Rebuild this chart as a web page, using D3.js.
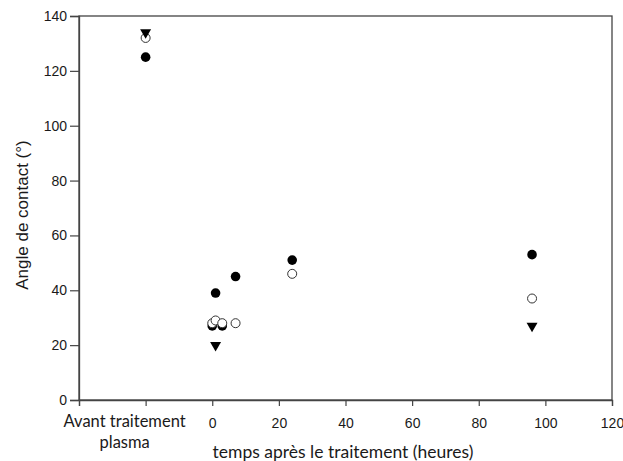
<!DOCTYPE html>
<html><head><meta charset="utf-8">
<script src="https://cdn.jsdelivr.net/npm/d3@7"></script>
<style>body{margin:0;background:#fff}svg{display:block}</style>
</head><body>
<svg id="c" width="623" height="461"></svg>
<script>
const times = ["Avant", 0, 1, 3, 7, 24, 96];
const filledValues = [125, 27, 39, 27, 45, 51, 53];
const openValues = [132, 28, 29, 28, 28, 46, 37];
const triTimes = ["Avant", 1, 96];
const triValues = [134, 20, 27];
const xTicks = [-40, -20, 0, 20, 40, 60, 80, 100, 120];
const yTicks = [0, 20, 40, 60, 80, 100, 120, 140];
const avantLabel = ["Avant traitement", "plasma"];
const xTitle = "temps après le traitement (heures)";
const yTitle = "Angle de contact (°)";

const ARIAL = "'Liberation Sans', Arial, sans-serif";
const CAL = "Lato, 'Open Sans', sans-serif";
const svg = d3.select("#c");
const L = 79, R = 612, T = 16, B = 400;
const x = d3.scaleLinear().domain([-40, 120]).range([L, R]);
const y = d3.scaleLinear().domain([0, 140]).range([B, T]);
const xv = t => t === "Avant" ? -20 : t;
const axisCol = "#444", textCol = "#1a1a1a";

svg.append("rect").attr("x", L).attr("y", T).attr("width", R - L).attr("height", B - T)
  .attr("fill", "none").attr("stroke", axisCol).attr("stroke-width", 1.3);

const ya = svg.append("g").attr("transform", `translate(${L},0)`)
  .call(d3.axisLeft(y).tickValues(yTicks).tickSize(9).tickPadding(3));
ya.select(".domain").attr("stroke", axisCol).attr("stroke-width", 1.3);
ya.selectAll(".tick line").attr("stroke", axisCol).attr("stroke-width", 1.2);
ya.selectAll(".tick text").style("font-family", ARIAL).style("font-size", "14px").attr("fill", textCol);

const xa = svg.append("g").attr("transform", `translate(0,${B})`)
  .call(d3.axisBottom(x).tickValues(xTicks).tickSize(6).tickPadding(12)
    .tickFormat(d => (d < 0 ? "" : d)));
xa.select(".domain").attr("stroke", axisCol).attr("stroke-width", 1.3);
xa.selectAll(".tick line").attr("stroke", axisCol).attr("stroke-width", 1.2);
xa.selectAll(".tick text").style("font-family", ARIAL).style("font-size", "14px").attr("fill", textCol);

const at = svg.append("text").style("font-family", CAL).style("font-size", "16.5px")
  .attr("text-anchor", "middle").attr("fill", textCol);
avantLabel.forEach((s, i) => at.append("tspan").attr("x", x(-20) - 21).attr("y", 427 + i * 21).text(s));

svg.append("text").style("font-family", CAL).style("font-size", "17.5px")
  .attr("x", 343).attr("y", 458).attr("text-anchor", "middle").attr("fill", textCol).text(xTitle);
svg.append("text").style("font-family", ARIAL).style("font-size", "17px")
  .attr("transform", "translate(28,215) rotate(-90)").attr("text-anchor", "middle").attr("fill", textCol).text(yTitle);

svg.append("g").selectAll("circle").data(times.map((t, i) => [t, filledValues[i]])).join("circle")
  .attr("cx", d => x(xv(d[0]))).attr("cy", d => y(d[1])).attr("r", 4.8).attr("fill", "#000");
svg.append("g").selectAll("circle").data(times.map((t, i) => [t, openValues[i]])).join("circle")
  .attr("cx", d => x(xv(d[0]))).attr("cy", d => y(d[1])).attr("r", 4.5)
  .attr("fill", "#fff").attr("stroke", "#333").attr("stroke-width", 1);
svg.append("g").selectAll("path").data(triTimes.map((t, i) => [t, triValues[i]])).join("path")
  .attr("d", d3.symbol().type(d3.symbolTriangle).size(52))
  .attr("transform", d => `translate(${x(xv(d[0]))},${y(d[1])}) rotate(180)`).attr("fill", "#000");
</script>
</body></html>
